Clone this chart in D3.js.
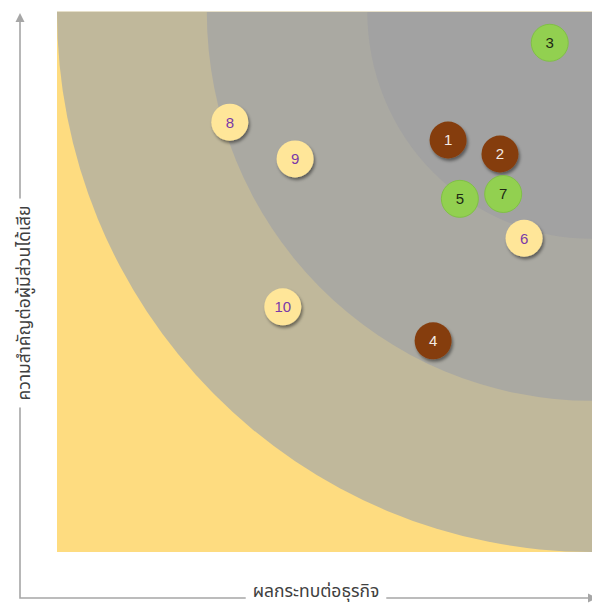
<!DOCTYPE html>
<html>
<head>
<meta charset="utf-8">
<script src="https://cdn.jsdelivr.net/npm/d3@7"></script>
<style>
  body { margin: 0; background: #fff; }
  svg { display: block; }
</style>
</head>
<body>
<div id="graf"></div>
<script>
// datos
ids      = [1, 2, 3, 4, 5, 6, 7, 8, 9, 10]
impacto  = [73.1, 82.8, 92.1, 70.3, 75.3, 87.3, 83.4, 32.3, 44.5, 42.2]   // eje x
importan = [76.3, 73.7, 94.3, 39.1, 65.4, 58.1, 66.3, 79.6, 72.8, 45.4]   // eje y
grupo    = ['alto', 'alto', 'verde', 'alto', 'verde', 'medio', 'verde', 'medio', 'medio', 'medio']

// radios de las zonas (misma unidad que los ejes)
zonas = [100, 72, 42]
coloresZona = ['#c0b89b', '#aaa9a2', '#a2a2a2']

tituloX = 'ผลกระทบต่อธุรกิจ'
tituloY = 'ความสำคัญต่อผู้มีส่วนได้เสีย'

// I. configuracion
ancho_total = 592
alto_total = 603
margins = { top: 12, left: 57, right: 0, bottom: 51 }

svg = d3.select('#graf').append('svg')
  .attr('width', ancho_total)
  .attr('height', alto_total)

x = d3.scaleLinear().domain([0, 100]).range([margins.left, ancho_total - margins.right])
y = d3.scaleLinear().domain([0, 100]).range([alto_total - margins.bottom, margins.top])

relleno = { alto: '#853d0e', verde: '#92d050', medio: '#ffe699' }
borde   = { alto: 'none', verde: '#80c046', medio: 'none' }
texto   = { alto: '#f4ece6', verde: '#1e2a14', medio: '#7a3aa8' }

defs = svg.append('defs')
defs.append('clipPath').attr('id', 'area')
  .append('rect')
  .attr('x', x(0)).attr('y', y(100))
  .attr('width', x(100) - x(0)).attr('height', y(0) - y(100))

sombra = defs.append('filter').attr('id', 'sombra')
  .attr('x', '-50%').attr('y', '-50%').attr('width', '200%').attr('height', '200%')
sombra.append('feDropShadow')
  .attr('dx', 1.5).attr('dy', 2.5).attr('stdDeviation', 1.6)
  .attr('flood-color', '#000').attr('flood-opacity', 0.45)

// II. fondo y zonas
fondo = svg.append('g').attr('clip-path', 'url(#area)')
fondo.append('rect')
  .attr('x', x(0)).attr('y', y(100))
  .attr('width', x(100) - x(0)).attr('height', y(0) - y(100))
  .attr('fill', '#fedc80')

fondo.selectAll('ellipse')
  .data(zonas)
  .enter()
  .append('ellipse')
  .attr('cx', x(100))
  .attr('cy', y(100))
  .attr('rx', d => x(d) - x(0))
  .attr('ry', d => y(0) - y(d))
  .attr('fill', (d, i) => coloresZona[i])

// linea clara arriba
svg.append('line')
  .attr('x1', x(0)).attr('x2', x(100))
  .attr('y1', y(100) - 0.5).attr('y2', y(100) - 0.5)
  .attr('stroke', '#e6dfc9').attr('stroke-width', 1)

// III. burbujas
datos = ids.map((d, i) => ({ id: d, x: impacto[i], y: importan[i], g: grupo[i] }))

burbujas = svg.selectAll('g.burbuja')
  .data(datos)
  .enter()
  .append('g')
  .attr('class', 'burbuja')
  .attr('transform', d => `translate(${x(d.x)}, ${y(d.y)})`)

burbujas.append('circle')
  .attr('r', 18.5)
  .attr('fill', d => relleno[d.g])
  .attr('stroke', d => borde[d.g])
  .attr('stroke-width', 1)
  .attr('filter', d => d.g == 'verde' ? null : 'url(#sombra)')

burbujas.append('text')
  .attr('text-anchor', 'middle')
  .attr('dy', '0.36em')
  .style('font-family', 'Liberation Sans, Arial, sans-serif')
  .style('font-size', '15px')
  .attr('fill', d => texto[d.g])
  .text(d => d.id)

// IV. ejes con flechas
gris = '#a6a6a6'
ejeX = 20
ejeY = 598

ejes = svg.append('g')
ejes.append('path')
  .attr('d', `M${ejeX},20 V${ejeY} H590`)
  .attr('fill', 'none')
  .attr('stroke', gris)
  .attr('stroke-width', 1.6)
ejes.append('path')
  .attr('d', `M${ejeX},13 L${ejeX - 4.5},22 L${ejeX + 4.5},22 Z`)
  .attr('fill', gris)
ejes.append('path')
  .attr('d', `M597,${ejeY} L588,${ejeY - 4.5} L588,${ejeY + 4.5} Z`)
  .attr('fill', gris)

fuente = 'Tahoma, "Noto Sans Thai", "Leelawadee UI", "DejaVu Sans", sans-serif'

labX = svg.append('text')
  .attr('x', 316).attr('y', 596.5)
  .attr('text-anchor', 'middle')
  .style('font-family', fuente)
  .style('font-size', '17.5px')
  .attr('fill', '#404040')
  .text(tituloX)

labY = svg.append('text')
  .attr('transform', `translate(${ejeX}, 303) rotate(-90)`)
  .attr('dy', '10px')
  .attr('text-anchor', 'middle')
  .style('font-family', fuente)
  .style('font-size', '17.5px')
  .attr('fill', '#404040')
  .text(tituloY)

// huecos blancos detras de los textos
bx = labX.node().getBBox()
ejes.append('rect')
  .attr('x', 316 - bx.width / 2 - 7).attr('y', ejeY - 3)
  .attr('width', bx.width + 14).attr('height', 6)
  .attr('fill', '#fff')
by = labY.node().getBBox()
ejes.append('rect')
  .attr('x', ejeX - 3).attr('y', 303 - by.width / 2 - 7)
  .attr('width', 6).attr('height', by.width + 14)
  .attr('fill', '#fff')
</script>
</body>
</html>
